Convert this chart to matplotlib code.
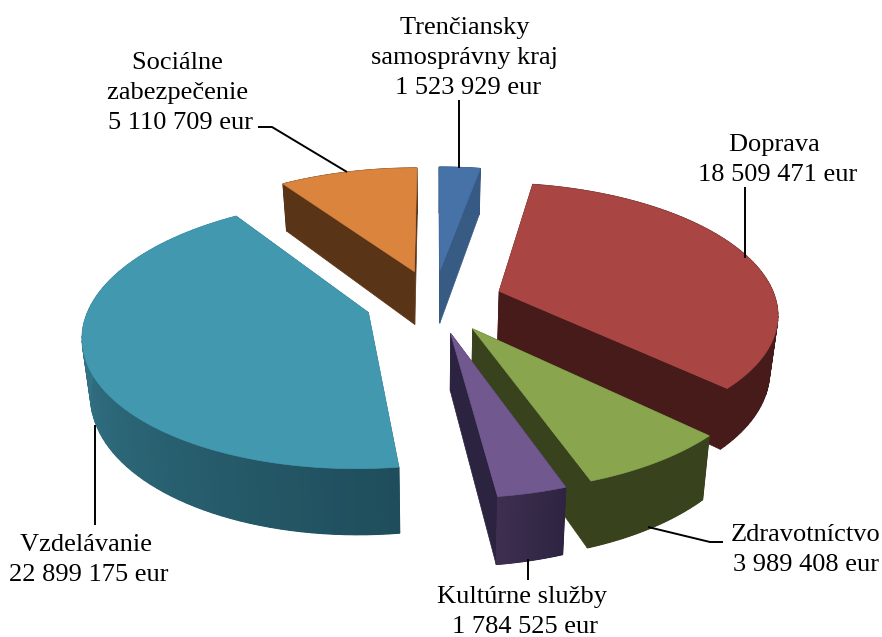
import numpy as np
import matplotlib
matplotlib.use("Agg")
import matplotlib.pyplot as plt
from matplotlib.colors import to_rgb
from matplotlib.patches import Polygon

plt.rcParams["font.family"] = ["Liberation Serif", "DejaVu Serif"]

names = ["Trenčiansky \nsamosprávny kraj ", "Doprava ", "Zdravotníctvo", "Kultúrne služby ", "Vzdelávanie ", "Sociálne \nzabezpečenie "]
values = [1523929, 18509471, 3989408, 1784525, 22899175, 5110709]
top_colors = ["#4672a8", "#a94543", "#89a54e", "#71588f", "#4198af", "#db843d"]
cut_colors = ["#385b84", "#461b19", "#38431e", "#2c2340", "#2f6f80", "#5a3416"]
wall_left = ["#375a85", "#461b19", "#38431e", "#3e2f50", "#3f8ea4", "#5a3416"]
wall_right = ["#375a85", "#4a1c1a", "#38431e", "#2e2441", "#1f4d5b", "#5a3416"]

# projection of the pie, in pixels
CX, CY = 434, 301
RX, RY = 277, 128
DEPTH = 55
PERSP = 0.155
EXPLODE = 0.25
SQUEEZE = 0.024


def project(gx, gy, z):
    s = 1 / (1 + PERSP * gy)
    return CX + RX * gx * s * (1 - SQUEEZE * z), CY - RY * gy * s + DEPTH * z * s


def mix(c1, c2, t):
    a, b = np.array(to_rgb(c1)), np.array(to_rgb(c2))
    return a + (b - a) * t


def draw_slice(ax, a0, a1, i):
    mid = (a0 + a1) / 2
    ox, oy = EXPLODE * np.sin(mid), EXPLODE * np.cos(mid)
    t = np.linspace(a0, a1, 80)
    gx, gy = ox + np.sin(t), oy + np.cos(t)

    for a in (a0, a1):
        pts = [project(ox, oy, 0), project(ox + np.sin(a), oy + np.cos(a), 0),
               project(ox + np.sin(a), oy + np.cos(a), 1), project(ox, oy, 1)]
        ax.add_patch(Polygon(pts, fc=cut_colors[i], ec=cut_colors[i], lw=0.5))

    # solid wall under the gradient strips, so no seams show
    outline = [project(x, y, 0) for x, y in zip(gx, gy)] + [project(x, y, 1) for x, y in zip(gx[::-1], gy[::-1])]
    ax.add_patch(Polygon(outline, fc=mix(wall_right[i], wall_left[i], 0.5), lw=0))
    for k in range(len(t) - 1):
        pts = [project(gx[k], gy[k], 0), project(gx[k + 1], gy[k + 1], 0),
               project(gx[k + 1], gy[k + 1], 1), project(gx[k], gy[k], 1)]
        col = mix(wall_right[i], wall_left[i], (k / (len(t) - 2)))
        ax.add_patch(Polygon(pts, fc=col, ec=col, lw=0.8))

    top = [project(ox, oy, 0)] + [project(x, y, 0) for x, y in zip(gx, gy)]
    ax.add_patch(Polygon(top, fc=top_colors[i], ec=top_colors[i], lw=0.5))


fig = plt.figure(figsize=(8.82, 6.37), dpi=100)
ax = fig.add_axes([0, 0, 1, 1])
ax.set_xlim(0, 882)
ax.set_ylim(637, 0)
ax.axis("off")

angles = np.cumsum([0] + values) / sum(values) * 2 * np.pi
mids = (angles[:-1] + angles[1:]) / 2
# back slices first
for i in np.argsort(-np.cos(mids)):
    draw_slice(ax, angles[i], angles[i + 1], i)

leaders = [
    [(459, 100), (459, 168)],
    [(745, 187), (745, 258)],
    [(723, 542), (710, 542), (648, 527)],
    [(527.5, 580), (527.5, 559)],
    [(94.5, 525), (94.5, 425)],
    [(258, 127), (272, 127), (347, 172)],
]
for line in leaders:
    xs, ys = zip(*line)
    ax.plot(xs, ys, color="black", lw=1.4, solid_capstyle="butt")

label_pos = [(468, 58), (778, 160), (806, 550), (525, 612), (89, 560), (181, 93)]
for name, val, (x, y) in zip(names, values, label_pos):
    txt = name + "\n" + f"{val:,}".replace(",", " ") + " eur"
    ax.text(x, y, txt, ha="center", va="center", fontsize=19, linespacing=1.48, color="black")

fig.savefig("out.png", dpi=100)
plt.close()
